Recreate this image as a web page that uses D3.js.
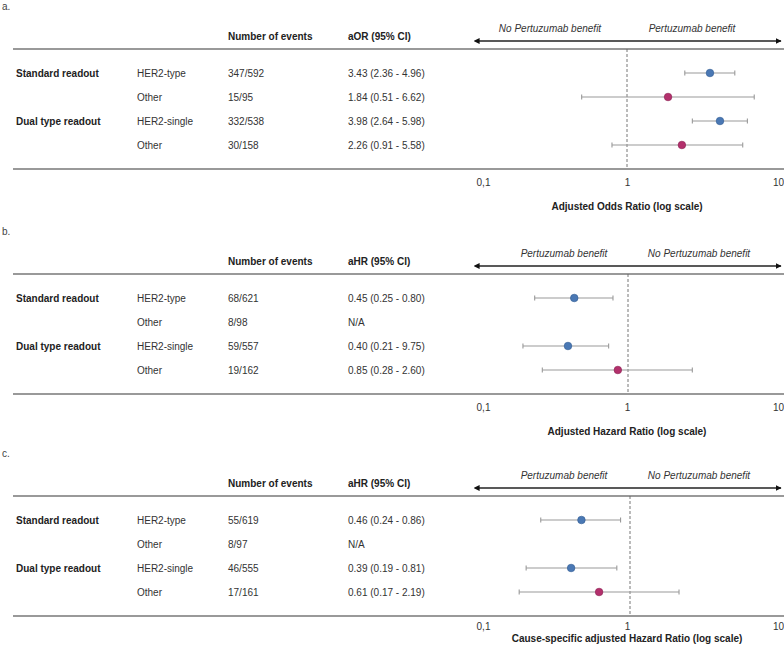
<!DOCTYPE html>
<html><head><meta charset="utf-8">
<script src="https://cdn.jsdelivr.net/npm/d3@7"></script>
<style>
body{margin:0;background:#fff;}
text{font-family:"Liberation Sans",Arial,sans-serif;font-size:10px;fill:#222;}
</style></head>
<body><svg id="c" width="784" height="652"></svg>
<script>
// ---- data ----
const panelLetters = ["a.", "b.", "c."];
const groups = ["Standard readout", "", "Dual type readout", ""];
const subgroups = [["HER2-type","Other","HER2-single","Other"],["HER2-type","Other","HER2-single","Other"],["HER2-type","Other","HER2-single","Other"]];
const events = [["347/592","15/95","332/538","30/158"],["68/621","8/98","59/557","19/162"],["55/619","8/97","46/555","17/161"]];
const estHeaders = ["aOR (95% CI)", "aHR (95% CI)", "aHR (95% CI)"];
const estLabels = [
  ["3.43 (2.36 - 4.96)","1.84 (0.51 - 6.62)","3.98 (2.64 - 5.98)","2.26 (0.91 - 5.58)"],
  ["0.45 (0.25 - 0.80)","N/A","0.40 (0.21 - 9.75)","0.85 (0.28 - 2.60)"],
  ["0.46 (0.24 - 0.86)","N/A","0.39 (0.19 - 0.81)","0.61 (0.17 - 2.19)"]
];
// drawn values (as plotted)
const est = [[3.43,1.84,3.98,2.26],[0.45,null,0.41,0.86],[0.46,null,0.39,0.61]];
const lo  = [[2.36,0.51,2.64,0.80],[0.25,null,0.21,0.28],[0.24,null,0.19,0.17]];
const hi  = [[4.96,6.62,5.98,5.58],[0.80,null,0.75,2.60],[0.86,null,0.81,2.19]];
const pointType = ["her2","other","her2","other"];
const leftArrowLabels = ["No Pertuzumab benefit","Pertuzumab benefit","Pertuzumab benefit"];
const rightArrowLabels = ["Pertuzumab benefit","No Pertuzumab benefit","No Pertuzumab benefit"];
const xTitles = ["Adjusted Odds Ratio (log scale)","Adjusted Hazard Ratio (log scale)","Cause-specific adjusted Hazard Ratio (log scale)"];
const tickValues = [0.1, 1, 10];
const tickLabels = ["0,1", "1", "10"];

// ---- layout ----
const svg = d3.select("#c");
const bases = [49, 274, 496];
const ranges = [[472,782],[473,783],[486,774]];
const tickOff = [133, 133, 130];
const xTitleOff = [157, 157, 142];
const arrowLblX = [[550,692],[564,699],[564,699]];
const colors = {her2:"#4a78b4", other:"#b3306c"};
const strokes = {her2:"#2f5a92", other:"#8a1f50"};

const defs = svg.append("defs");
["start","end"].forEach(k=>{
  defs.append("marker").attr("id","arr-"+k).attr("viewBox","0 0 10 10")
    .attr("refX", k==="end"?9:1).attr("refY",5).attr("markerWidth",6).attr("markerHeight",6)
    .attr("markerUnits","userSpaceOnUse").attr("orient","auto-start-reverse")
    .append("path").attr("d","M0,0 L10,5 L0,10 z").attr("fill","#111");
});

const tickScale = d3.scaleLog().domain([0.1,1,10]).range([483,627,778]);

bases.forEach((b, p) => {
  const g = svg.append("g");
  const x = d3.scaleLog().domain([0.1,10]).range(ranges[p]);
  const rowY = d3.scalePoint().domain(d3.range(4)).range([b+24, b+96]);

  g.append("text").attr("x",2).attr("y",b-43).attr("dy","0.35em").style("fill","#444").text(panelLetters[p]);

  // headers
  g.append("text").attr("x",228).attr("y",b-13).attr("dy","0.35em").attr("font-weight","bold").text("Number of events");
  g.append("text").attr("x",348).attr("y",b-13).attr("dy","0.35em").attr("font-weight","bold").text(estHeaders[p]);

  // arrow
  g.append("line").attr("x1",479).attr("x2",781).attr("y1",b-8).attr("y2",b-8)
    .attr("stroke","#222").attr("stroke-width",1.6)
    .attr("marker-start","url(#arr-start)").attr("marker-end","url(#arr-end)");
  g.append("text").attr("x",arrowLblX[p][0]).attr("y",b-17).attr("text-anchor","middle").attr("font-style","italic").style("fill","#333").text(leftArrowLabels[p]);
  g.append("text").attr("x",arrowLblX[p][1]).attr("y",b-17).attr("text-anchor","middle").attr("font-style","italic").style("fill","#333").text(rightArrowLabels[p]);

  // rules
  g.append("line").attr("x1",13).attr("x2",784).attr("y1",b).attr("y2",b).attr("stroke","#777").attr("stroke-width",1.4);
  g.append("line").attr("x1",13).attr("x2",784).attr("y1",b+120).attr("y2",b+120).attr("stroke","#777").attr("stroke-width",1.4);

  // reference line
  g.append("line").attr("x1",x(1)).attr("x2",x(1)).attr("y1",b).attr("y2",b+120)
    .attr("stroke","#666").attr("stroke-width",0.9).attr("stroke-dasharray","3,2");

  // table rows
  d3.range(4).forEach(i=>{
    const y = rowY(i);
    if (groups[i]) g.append("text").attr("x",16).attr("y",y).attr("dy","0.35em").attr("font-weight","bold").text(groups[i]);
    g.append("text").attr("x",137).attr("y",y).attr("dy","0.35em").style("fill","#333").text(subgroups[p][i]);
    g.append("text").attr("x",228).attr("y",y).attr("dy","0.35em").style("fill","#333").text(events[p][i]);
    g.append("text").attr("x",348).attr("y",y).attr("dy","0.35em").style("fill","#333").text(estLabels[p][i]);
    if (est[p][i] != null) {
      g.append("line").attr("x1",x(lo[p][i])).attr("x2",x(hi[p][i])).attr("y1",y).attr("y2",y).attr("stroke","#999").attr("stroke-width",1.1);
      [lo[p][i], hi[p][i]].forEach(v=>{
        g.append("line").attr("x1",x(v)).attr("x2",x(v)).attr("y1",y-2.5).attr("y2",y+2.5).attr("stroke","#999").attr("stroke-width",1.1);
      });
      const t = pointType[i];
      g.append("circle").attr("cx",x(est[p][i])).attr("cy",y).attr("r",3.8)
        .attr("fill",colors[t]).attr("stroke",strokes[t]).attr("stroke-width",0.6);
    }
  });

  // axis labels
  const ax = g.append("g").attr("transform",`translate(0,${b+tickOff[p]})`)
    .call(d3.axisBottom(tickScale).tickValues(tickValues).tickSize(0).tickFormat((d,i)=>tickLabels[i]));
  ax.select(".domain").remove();
  ax.selectAll("text").attr("y",0).attr("dy","0.35em").style("font-family","'Liberation Sans',Arial,sans-serif").style("font-size","10px").style("fill","#333");

  g.append("text").attr("x",627).attr("y",b+xTitleOff[p]).attr("dy","0.35em").attr("text-anchor","middle").attr("font-weight","bold").text(xTitles[p]);
});
</script></body></html>
